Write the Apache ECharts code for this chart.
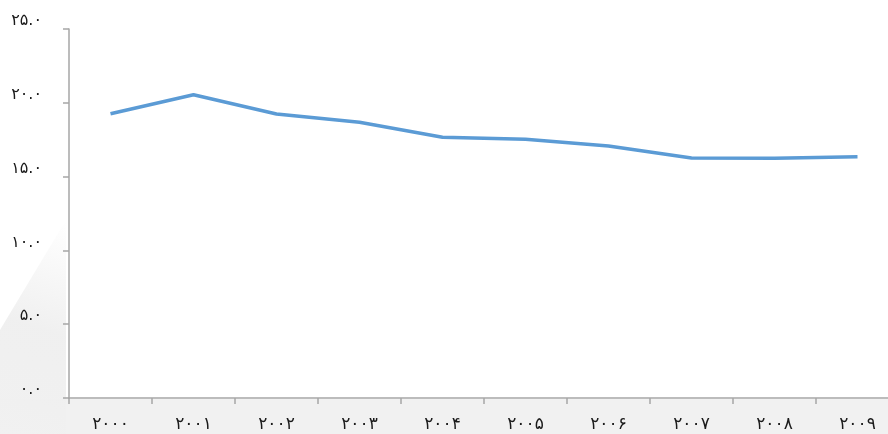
<!DOCTYPE html>
<html>
<head>
<meta charset="utf-8">
<script src="https://cdn.jsdelivr.net/npm/echarts@6/dist/echarts.min.js"></script>
<style>
  html, body { margin: 0; padding: 0; background: #fff; }
  #main { width: 888px; height: 434px; }
</style>
</head>
<body>
<div id="main"></div>
<script>
'use strict'

// سال‌ها و مقادیر خوانده شده از تصویر
const years = ['۲۰۰۰', '۲۰۰۱', '۲۰۰۲', '۲۰۰۳', '۲۰۰۴', '۲۰۰۵', '۲۰۰۶', '۲۰۰۷', '۲۰۰۸', '۲۰۰۹'];
const values = [19.26, 20.55, 19.24, 18.68, 17.66, 17.53, 17.07, 16.26, 16.24, 16.35];
const yTicks = ['۰.۰', '۵.۰', '۱۰.۰', '۱۵.۰', '۲۰.۰', '۲۵.۰'];

let myChart = echarts.init(document.getElementById('main'));

myChart.setOption({
    backgroundColor: '#fff',
    animation: false,
    textStyle: { fontFamily: 'DejaVu Sans' },
    graphic: [{
        type: 'rect',
        z: -10,
        shape: { x: 0, y: 399, width: 888, height: 35 },
        style: { fill: '#f1f1f1' }
    }, {
        // سایه‌ی کم‌رنگ گوشه‌ی پایین چپ
        type: 'polygon',
        z: -10,
        shape: { points: [[66, 220], [66, 434], [0, 434], [0, 330]] },
        style: {
            fill: new echarts.graphic.LinearGradient(1, 0, 0, 1, [
                { offset: 0, color: 'rgba(238,238,238,0)' },
                { offset: 0.5, color: 'rgba(238,238,238,0.9)' },
                { offset: 1, color: 'rgba(241,241,241,1)' }
            ])
        }
    }],
    grid: {
        left: 69,
        width: 830,
        top: 29,
        height: 369,
        outerBoundsMode: 'none',
        containLabel: false
    },
    xAxis: {
        type: 'category',
        data: years,
        boundaryGap: true,
        axisLine: { lineStyle: { color: '#a6a6a6', width: 1.5 } },
        axisTick: { show: true, length: 6, lineStyle: { color: '#a6a6a6', width: 1.5 } },
        axisLabel: { color: '#1a1a1a', fontSize: 17, margin: 18 },
        splitLine: { show: false }
    },
    yAxis: {
        type: 'value',
        min: 0,
        max: 25,
        interval: 5,
        axisLine: { show: true, lineStyle: { color: '#a6a6a6', width: 1.5 } },
        axisTick: { show: true, length: 6, lineStyle: { color: '#a6a6a6', width: 1.5 } },
        axisLabel: {
            color: '#1a1a1a',
            fontSize: 16,
            margin: 27,
            verticalAlign: 'bottom',
            formatter: function (v) { return yTicks[v / 5]; }
        },
        splitLine: { show: false }
    },
    series: [{
        type: 'line',
        data: values,
        symbol: 'none',
        lineStyle: { color: '#5b9bd5', width: 3.5 }
    }]
});
</script>
</body>
</html>
